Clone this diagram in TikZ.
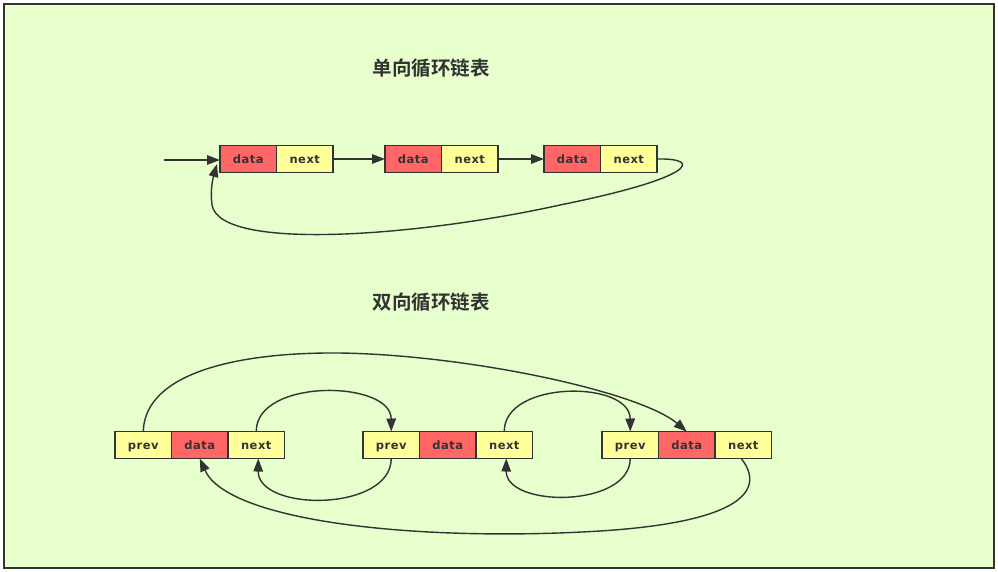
\documentclass[tikz,border=0pt]{standalone}
\usepackage{fontspec}
\newfontfamily\cjk{Noto Sans CJK SC}[BoldFont={Noto Sans CJK SC Bold}]
\newfontfamily\boxfont{DejaVu Sans}[LetterSpace=4]
\usetikzlibrary{arrows.meta}
\definecolor{bg}{HTML}{E6FFCC}
\definecolor{ink}{HTML}{333333}
\definecolor{cred}{HTML}{FF6666}
\definecolor{cyel}{HTML}{FFFF99}
\begin{document}
\begin{tikzpicture}[x=1pt,y=-1pt,
  cell/.style={draw=ink,line width=1.5pt,minimum width=56.5pt,minimum height=27pt,inner sep=0pt,outer sep=0pt,text=ink,text height=9pt,text depth=1pt,font=\boxfont\bfseries\fontsize{11.5}{13}\selectfont},
  dcell/.style={cell,fill=cred},
  ncell/.style={cell,fill=cyel},
  link/.style={draw=ink,line width=1.4pt,-{Triangle[length=13pt,width=9.5pt]}},
  title/.style={text=ink,font=\cjk\bfseries\fontsize{19.5}{22}\selectfont}]
\useasboundingbox (0,0) rectangle (998,571);
\draw[draw=ink,line width=2pt,fill=bg] (4,4) rectangle (994,568);
% titles
\node[title] (t1) at (431,68) {单向循环链表};
\node[title] (t2) at (431,302) {双向循环链表};
% single list
\node[dcell] (d1) at (248.25,159) {data};
\node[ncell] (n1) at (304.75,159) {next};
\node[dcell] (d2) at (413.25,159) {data};
\node[ncell] (n2) at (469.75,159) {next};
\node[dcell] (d3) at (572.25,159) {data};
\node[ncell] (n3) at (628.75,159) {next};
\coordinate (start) at (164,160);
\coordinate (loopend) at (217,164);
\draw[link] (start) -- (d1.west |- start);
\draw[link] (n1.east) -- (d2.west);
\draw[link] (n2.east) -- (d3.west);
\draw[link] (n3.east) .. controls (704,158) and (694,178) .. (560,205)
  .. controls (420,236) and (220,252) .. (212,205)
  .. controls (210,190) and (213,178) .. (loopend);
% double list
\node[ncell] (pa) at (143.25,445) {prev};
\node[dcell] (da) at (199.75,445) {data};
\node[ncell] (na) at (256.25,445) {next};
\node[ncell] (pb) at (391.25,445) {prev};
\node[dcell] (db) at (447.75,445) {data};
\node[ncell] (nb) at (504.25,445) {next};
\node[ncell] (pc) at (630.25,445) {prev};
\node[dcell] (dc) at (686.75,445) {data};
\node[ncell] (nc) at (743.25,445) {next};
% top big arc prev A -> data C
\draw[link] (pa.north) .. controls (145,372) and (240,352) .. (340,353)
  .. controls (470,355) and (640,392) .. (dc.north);
% A.next -> B.prev
\draw[link] (na.north) .. controls (256,378) and (391,380) .. (pb.north);
% B.prev -> A.next
\draw[link] (pb.south) .. controls (391,512) and (258,512) .. ([xshift=2pt]na.south);
% B.next -> C.prev
\draw[link] (nb.north) .. controls (504,380) and (630,380) .. (pc.north);
% C.prev -> B.next
\draw[link] (pc.south) .. controls (630,508) and (506,508) .. ([xshift=2pt]nb.south);
% C.next -> A.data
\draw[link] ([xshift=-2pt]nc.south) .. controls (766,490) and (742,522) .. (600,531)
  .. controls (420,542) and (228,522) .. (da.south);
\end{tikzpicture}
\end{document}
